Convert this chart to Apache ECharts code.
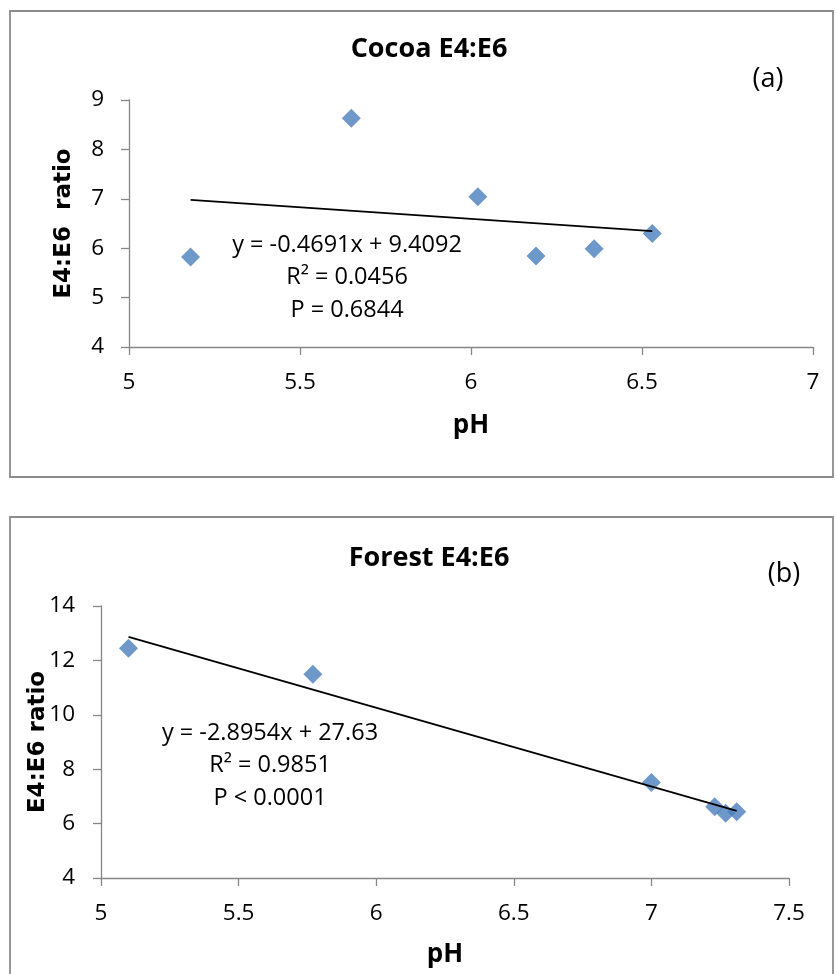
<!DOCTYPE html>
<html>
<head>
<meta charset="utf-8">
<script src="https://cdn.jsdelivr.net/npm/echarts@6/dist/echarts.min.js"></script>
<style>
html,body{margin:0;padding:0;background:#fff;}
#c{width:837px;height:974px;}
</style>
</head>
<body>
<div id="c"></div>
<script>
// ---- data ----
const cocoaPH = [5.18, 5.65, 6.02, 6.19, 6.36, 6.53];
const cocoaE46 = [5.82, 8.63, 7.04, 5.84, 5.99, 6.30];
const cocoaSlope = -0.4691, cocoaIntercept = 9.4092;
const cocoaLabels = ['y = -0.4691x + 9.4092', 'R\u00B2 = 0.0456', 'P = 0.6844'];

const forestPH = [5.10, 5.77, 7.00, 7.23, 7.27, 7.31];
const forestE46 = [12.45, 11.49, 7.51, 6.62, 6.38, 6.44];
const forestSlope = -2.8954, forestIntercept = 27.63;
const forestLabels = ['y = -2.8954x + 27.63', 'R\u00B2 = 0.9851', 'P < 0.0001'];

const cocoaXTicks = {min: 5, max: 7, interval: 0.5};
const cocoaYTicks = {min: 4, max: 9, interval: 1};
const forestXTicks = {min: 5, max: 7.5, interval: 0.5};
const forestYTicks = {min: 4, max: 14, interval: 2};

// ---- build ----
const pts = (xs, ys) => xs.map((x, i) => [x, ys[i]]);
const trend = (xs, m, b) => {
  const x0 = Math.min(...xs), x1 = Math.max(...xs);
  return [[x0, m * x0 + b], [x1, m * x1 + b]];
};

const FONT = "'Open Sans', sans-serif";
const axisGray = '#868686';

function xAxisOf(t, idx, gap) {
  return {
    type: 'value', gridIndex: idx, min: t.min, max: t.max, interval: t.interval,
    name: 'pH', nameLocation: 'middle', nameGap: gap, nameMoveOverlap: false,
    nameTextStyle: {fontFamily: FONT, fontWeight: 'bold', fontSize: 26, color: '#000'},
    axisLine: {show: true, onZero: false, lineStyle: {color: axisGray, width: 1.3}},
    axisTick: {show: true, inside: false, length: 8, lineStyle: {color: axisGray, width: 1.3}},
    axisLabel: {fontFamily: FONT, fontSize: 22.5, color: '#000', margin: 24},
    splitLine: {show: false}
  };
}
function yAxisOf(t, idx, name, gap, margin) {
  return {
    type: 'value', gridIndex: idx, min: t.min, max: t.max, interval: t.interval,
    name: name, nameLocation: 'middle', nameGap: gap, nameRotate: 90, nameMoveOverlap: false,
    nameTextStyle: {fontFamily: "'DejaVu Sans', sans-serif", fontWeight: 'bold', fontSize: 23, color: '#000'},
    axisLine: {show: true, onZero: false, lineStyle: {color: axisGray, width: 1.3}},
    axisTick: {show: true, inside: false, length: 8, lineStyle: {color: axisGray, width: 1.3}},
    axisLabel: {fontFamily: FONT, fontSize: 22.5, color: '#000', margin: margin},
    splitLine: {show: false}
  };
}

function txt(x, y, s, size, bold) {
  return {type: 'text', x: x, y: y, z: 10,
    style: {text: s, fill: '#000', font: (bold ? 'bold ' : '') + size + 'px ' + FONT,
            textAlign: 'center', textVerticalAlign: 'middle'}};
}
function eqn(cx, y0, lines) {
  return lines.map((s, i) => txt(cx, y0 + i * 32.5, s, 23.5, false));
}

const graphics = [
  {type: 'rect', shape: {x: 10, y: 11, width: 823, height: 466}, style: {fill: 'none', stroke: '#8c8c8c', lineWidth: 1.8}},
  {type: 'rect', shape: {x: 10, y: 517, width: 823, height: 470}, style: {fill: 'none', stroke: '#8c8c8c', lineWidth: 1.8}},
  txt(429, 49, 'Cocoa E4:E6', 27, true),
  txt(768, 79, '(a)', 27, false),
  txt(429, 558, 'Forest E4:E6', 27, true),
  txt(784, 574, '(b)', 27, false)
].concat(eqn(347, 245, cocoaLabels), eqn(270, 733, forestLabels));

const scatterStyle = {color: '#4a7ebb'};
const option = {
  animation: false,
  backgroundColor: '#fff',
  grid: [
    {left: 129, top: 100, width: 684, height: 247, containLabel: false},
    {left: 101, top: 606, width: 688, height: 272, containLabel: false}
  ],
  xAxis: [xAxisOf(cocoaXTicks, 0, 66), xAxisOf(forestXTicks, 1, 64)],
  yAxis: [yAxisOf(cocoaYTicks, 0, 'E4:E6  ratio', 53, 25), yAxisOf(forestYTicks, 1, 'E4:E6 ratio', 51, 26)],
  graphic: graphics,
  series: [
    {type: 'line', xAxisIndex: 0, yAxisIndex: 0, data: trend(cocoaPH, cocoaSlope, cocoaIntercept),
     symbol: 'none', lineStyle: {color: '#000', width: 1.8}, z: 3},
    {type: 'scatter', xAxisIndex: 0, yAxisIndex: 0, data: pts(cocoaPH, cocoaE46),
     symbol: 'diamond', symbolSize: [19, 19], itemStyle: scatterStyle, z: 2},
    {type: 'line', xAxisIndex: 1, yAxisIndex: 1, data: trend(forestPH, forestSlope, forestIntercept),
     symbol: 'none', lineStyle: {color: '#000', width: 1.8}, z: 3},
    {type: 'scatter', xAxisIndex: 1, yAxisIndex: 1, data: pts(forestPH, forestE46),
     symbol: 'diamond', symbolSize: [19, 19], itemStyle: scatterStyle, z: 2}
  ]
};
echarts.init(document.getElementById('c'), null, {renderer: 'canvas'}).setOption(option);
</script>
</body>
</html>
